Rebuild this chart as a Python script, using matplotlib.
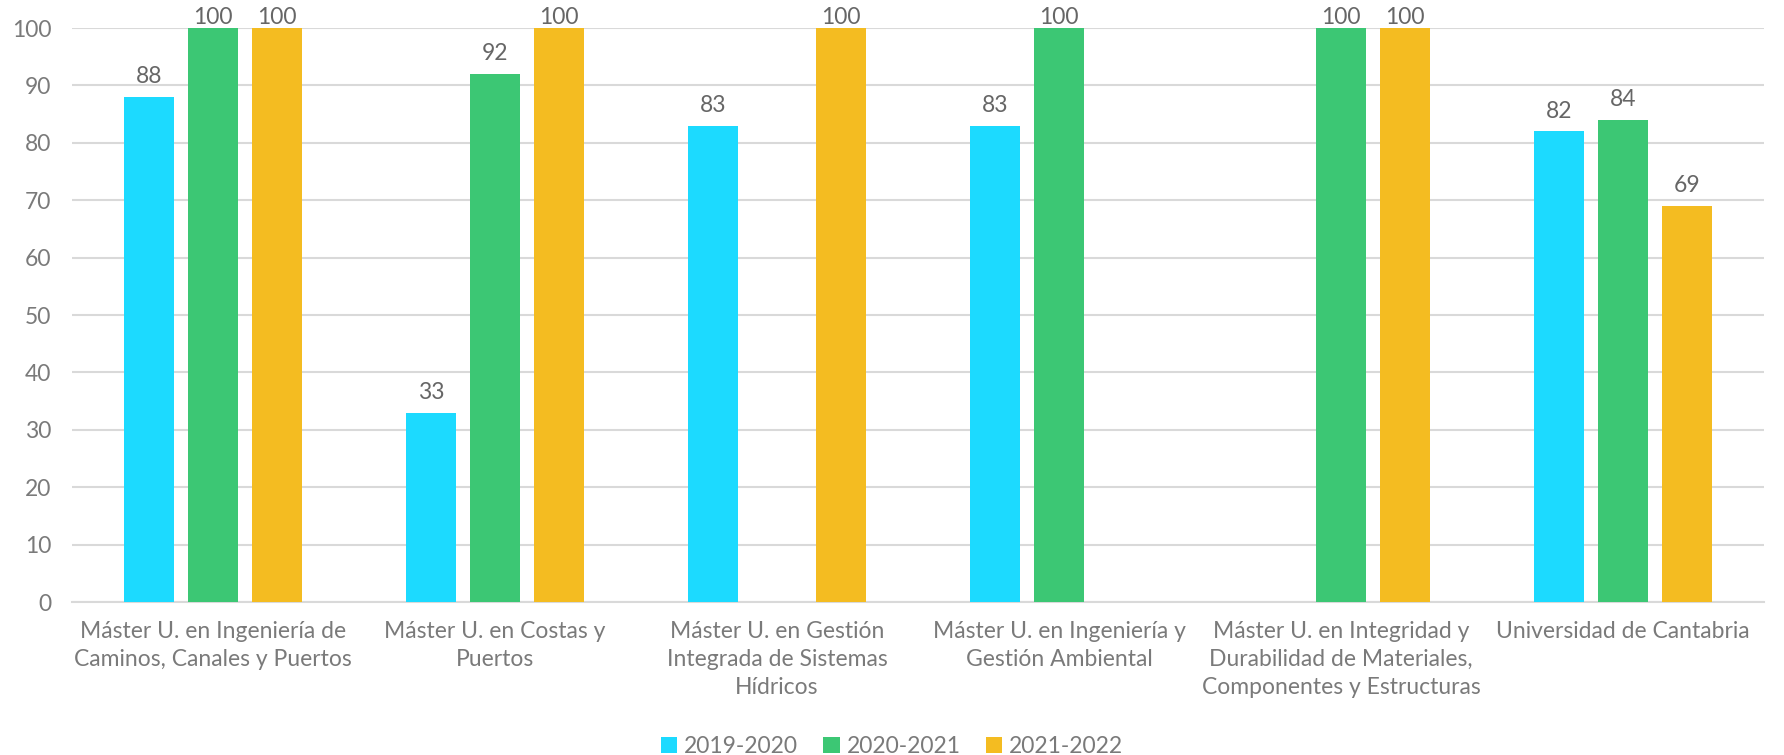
import numpy as np
import matplotlib.pyplot as plt

categories = [
    "Máster U. en Ingeniería de\nCaminos, Canales y Puertos",
    "Máster U. en Costas y\nPuertos",
    "Máster U. en Gestión\nIntegrada de Sistemas\nHídricos",
    "Máster U. en Ingeniería y\nGestión Ambiental",
    "Máster U. en Integridad y\nDurabilidad de Materiales,\nComponentes y Estructuras",
    "Universidad de Cantabria",
]
series_names = ["2019-2020", "2020-2021", "2021-2022"]
v_2019 = [88, 33, 83, 83, np.nan, 82]
v_2020 = [100, 92, np.nan, 100, 100, 84]
v_2021 = [100, 100, 100, np.nan, 100, 69]
colors = ["#1CDAFF", "#3CC774", "#F4BC21"]

plt.rcParams["font.family"] = ["Lato", "DejaVu Sans"]
TXT = "#7a7a7a"
FS = 16.5

fig = plt.figure(figsize=(17.84, 7.55), dpi=100)
ax = fig.add_axes([0.0404, 0.2026, 0.9484, 0.7603])

x = np.arange(len(categories))
width = 0.177
step = 0.226
for i, (vals, name, col) in enumerate(zip([v_2019, v_2020, v_2021], series_names, colors)):
    pos = x + (i - 1) * step
    ax.bar(pos, vals, width, color=col, label=name, zorder=3)
    for p, v in zip(pos, vals):
        if not np.isnan(v):
            # labels at the top get pushed down to stay inside the chart
            off = 7 if v < 95 else 0
            ax.annotate(f"{v:.0f}", (p, v), xytext=(0, off), textcoords="offset points",
                        ha="center", va="bottom", fontsize=FS, color="#666666",
                        annotation_clip=False)

ax.set_xlim(-0.5, len(categories) - 0.5)
ax.set_ylim(0, 100)
ax.set_yticks(range(0, 101, 10))
ax.yaxis.grid(True, color="#d9d9d9", linewidth=1.5, zorder=0)
ax.set_xticks(x)
ax.set_xticklabels(categories, fontsize=FS, color=TXT, linespacing=1.4)
ax.tick_params(axis="y", labelsize=FS, labelcolor=TXT, length=0, pad=15)
ax.tick_params(axis="x", length=0, pad=14)
for s in ["top", "right", "left"]:
    ax.spines[s].set_visible(False)
ax.spines["bottom"].set_color("#d9d9d9")
ax.spines["bottom"].set_linewidth(1.5)

fig.legend(loc="lower center", bbox_to_anchor=(0.5, -0.03), ncol=3, frameon=False,
           fontsize=FS, labelcolor=TXT, handlelength=0.7, handleheight=0.7,
           handletextpad=0.3, columnspacing=1.1)

fig.savefig("out.png", dpi=100)
